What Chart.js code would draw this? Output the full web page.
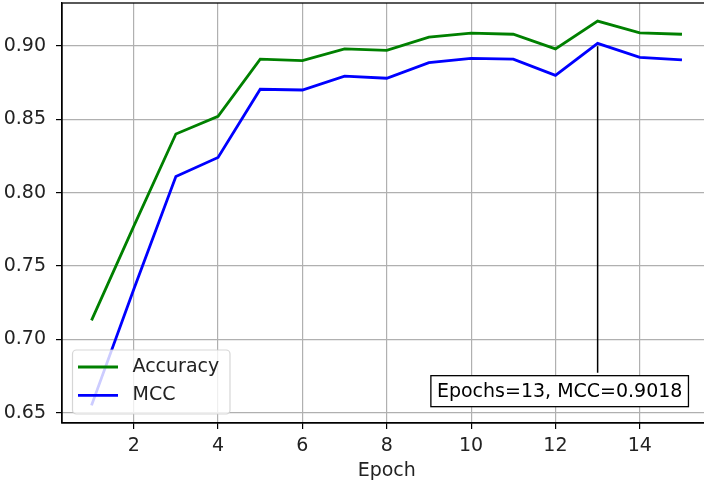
<!DOCTYPE html>
<html>
<head>
<meta charset="utf-8">
<script src="https://cdn.jsdelivr.net/npm/chart.js@4/dist/chart.umd.min.js"></script>
<style>
  html, body { margin: 0; padding: 0; background: #fff; overflow: hidden; }
  canvas { display: block; }
</style>
</head>
<body>
<canvas id="chart" width="712" height="484"></canvas>
<script>
// valores
const epochs = [1, 2, 3, 4, 5, 6, 7, 8, 9, 10, 11, 12, 13, 14, 15];
const accuracy = [0.713, 0.777, 0.840, 0.852, 0.891, 0.890, 0.898, 0.897, 0.906, 0.9087, 0.908, 0.898, 0.917, 0.909, 0.908];
const mcc = [0.655, 0.734, 0.811, 0.824, 0.8705, 0.870, 0.8795, 0.878, 0.8886, 0.8916, 0.891, 0.880, 0.9018, 0.8923, 0.8905];
const xTickStep = 2;
const yTickStep = 0.05;
const noteAt = [12.1, 0.6647]; // centro da caixa de anotação (coordenadas de dados)

const FONT = 'DejaVu Sans';
const FSIZE = 19;

const best = mcc.indexOf(Math.max(...mcc));
const noteText = 'Epochs=' + epochs[best] + ', MCC=' + mcc[best].toFixed(4);

// moldura completa do eixo (estilo matplotlib)
const framePlugin = {
  id: 'frame',
  afterDatasetsDraw(chart) {
    const { ctx, chartArea: a } = chart;
    ctx.save();
    ctx.strokeStyle = '#000';
    ctx.lineWidth = 1.3;
    ctx.strokeRect(a.left, a.top, a.right - a.left, a.bottom - a.top);
    ctx.restore();
  }
};

// anotação com linha até o melhor ponto
const notePlugin = {
  id: 'note',
  afterDatasetsDraw(chart) {
    const { ctx, scales } = chart;
    const px = scales.x.getPixelForValue(epochs[best]);
    const py = scales.y.getPixelForValue(mcc[best]);
    const cx = scales.x.getPixelForValue(noteAt[0]);
    const cy = scales.y.getPixelForValue(noteAt[1]);
    ctx.save();
    ctx.font = FSIZE + 'px "' + FONT + '"';
    const w = ctx.measureText(noteText).width + 12;
    const h = 31;
    const bx = cx - w / 2, by = cy - h / 2;
    ctx.strokeStyle = '#000';
    ctx.lineWidth = 1.5;
    ctx.beginPath();
    ctx.moveTo(px, py + 3);
    ctx.lineTo(px, by - 3);
    ctx.stroke();
    ctx.fillStyle = '#fff';
    ctx.fillRect(bx, by, w, h);
    ctx.lineWidth = 1.3;
    ctx.strokeRect(bx, by, w, h);
    ctx.fillStyle = '#000';
    ctx.textAlign = 'center';
    ctx.textBaseline = 'middle';
    ctx.fillText(noteText, cx, cy + 1);
    ctx.restore();
  }
};

// legenda no canto inferior esquerdo
const legendPlugin = {
  id: 'mplLegend',
  afterDraw(chart) {
    const { ctx, chartArea: a } = chart;
    const sets = chart.data.datasets;
    const x0 = a.left + 10.5, w = 157.5, h = 64;
    const y0 = a.bottom - 9 - h;
    ctx.save();
    ctx.beginPath();
    ctx.roundRect(x0, y0, w, h, 4);
    ctx.fillStyle = 'rgba(255,255,255,0.8)';
    ctx.fill();
    ctx.strokeStyle = 'rgba(204,204,204,0.8)';
    ctx.lineWidth = 1.2;
    ctx.stroke();
    ctx.font = FSIZE + 'px "' + FONT + '"';
    ctx.textBaseline = 'middle';
    sets.forEach((ds, i) => {
      const y = y0 + 17 + i * 28.3;
      ctx.strokeStyle = ds.borderColor;
      ctx.lineWidth = ds.borderWidth;
      ctx.beginPath();
      ctx.moveTo(x0 + 5.5, y);
      ctx.lineTo(x0 + 45.5, y);
      ctx.stroke();
      ctx.fillStyle = '#222';
      ctx.fillText(ds.label, x0 + 60, y);
    });
    ctx.restore();
  }
};

const ctx = document.getElementById('chart').getContext('2d');
new Chart(ctx, {
  type: 'line',
  data: {
    datasets: [{
      label: 'Accuracy',
      data: epochs.map((e, i) => ({ x: e, y: accuracy[i] })),
      borderColor: '#008000',
      borderWidth: 2.8
    }, {
      label: 'MCC',
      data: epochs.map((e, i) => ({ x: e, y: mcc[i] })),
      borderColor: '#0000ff',
      borderWidth: 2.8
    }]
  },
  options: {
    responsive: false,
    animation: false,
    devicePixelRatio: 1,
    layout: { padding: { left: 0, top: 3, right: 0.5, bottom: 0 } },
    elements: { point: { radius: 0 }, line: { tension: 0 } },
    plugins: {
      legend: { display: false },
      tooltip: { enabled: false }
    },
    scales: {
      x: {
        type: 'linear',
        min: 0.3,
        max: 15.7,
        afterFit(scale) {
          scale.height = 61;
          scale.paddingLeft = 0;
          scale.paddingRight = 0;
        },
        ticks: {
          stepSize: xTickStep,
          includeBounds: false,
          padding: 6,
          color: '#222',
          font: { family: FONT, size: FSIZE }
        },
        grid: { color: '#b0b0b0', lineWidth: 1.2, tickColor: '#000', tickLength: 6, tickWidth: 1.2 },
        border: { display: true, color: '#000', width: 1.3 },
        title: {
          display: true,
          text: 'Epoch',
          color: '#222',
          padding: { top: 0, bottom: 2 },
          font: { family: FONT, size: FSIZE }
        }
      },
      y: {
        min: 0.643,
        max: 0.9293,
        afterFit(scale) {
          scale.width = 62;
          scale.paddingTop = 0;
          scale.paddingBottom = 0;
        },
        ticks: {
          stepSize: yTickStep,
          includeBounds: false,
          padding: 10,
          color: '#222',
          font: { family: FONT, size: FSIZE },
          callback: v => v.toFixed(2)
        },
        grid: { color: '#b0b0b0', lineWidth: 1.2, tickColor: '#000', tickLength: 6, tickWidth: 1.2 },
        border: { display: true, color: '#000', width: 1.3 }
      }
    }
  },
  plugins: [framePlugin, notePlugin, legendPlugin]
});
</script>
</body>
</html>
